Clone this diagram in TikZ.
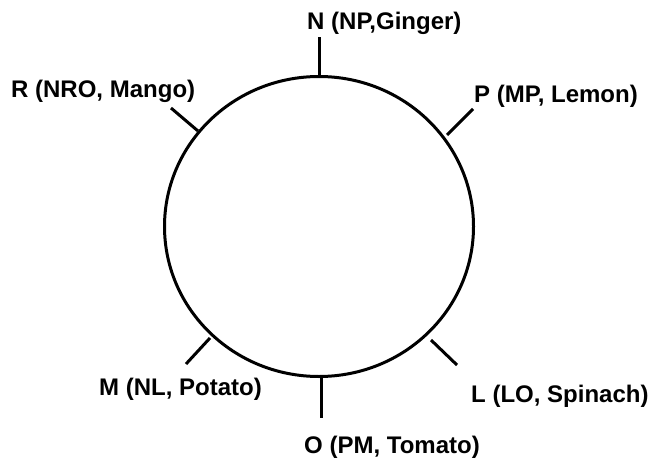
\documentclass[tikz,border=0pt]{standalone}
\usepackage{fontspec}
\setmainfont{Liberation Sans}
\begin{document}
\begin{tikzpicture}[x=1pt,y=-1pt,
  lbl/.style={anchor=base west,inner sep=0pt,font=\fontsize{24}{28}\selectfont\bfseries},
  tickline/.style={line width=3pt},
  ring/.style={line width=3pt}]
\useasboundingbox (0,0) rectangle (655,460);
\draw[ring] (319,226.5) ellipse [x radius=154.5pt, y radius=150pt];
% tick end points
\coordinate (nIn) at (319,76);   \coordinate (nOut) at (319,37);
\coordinate (oIn) at (321,376);  \coordinate (oOut) at (321,418);
\coordinate (rIn) at (198,131);  \coordinate (rOut) at (171,108);
\coordinate (pIn) at (447,135);  \coordinate (pOut) at (473,109);
\coordinate (mIn) at (210,338);  \coordinate (mOut) at (186,364);
\coordinate (lIn) at (431,340);  \coordinate (lOut) at (457,365);
\draw[tickline] (nIn) -- (nOut);
\draw[tickline] (oIn) -- (oOut);
\draw[tickline] (rIn) -- (rOut);
\draw[tickline] (pIn) -- (pOut);
\draw[tickline] (mIn) -- (mOut);
\draw[tickline] (lIn) -- (lOut);
% labels
\node[lbl] (N) at (307,30)  {N (NP,Ginger)};
\node[lbl] (R) at (11,97)   {R (NRO, Mango)};
\node[lbl] (P) at (474,102) {P (MP, Lemon)};
\node[lbl] (M) at (99,395)  {M (NL, Potato)};
\node[lbl] (L) at (471,402) {L (LO, Spinach)};
\node[lbl] (O) at (304,453) {O (PM, Tomato)};
\end{tikzpicture}
\end{document}
